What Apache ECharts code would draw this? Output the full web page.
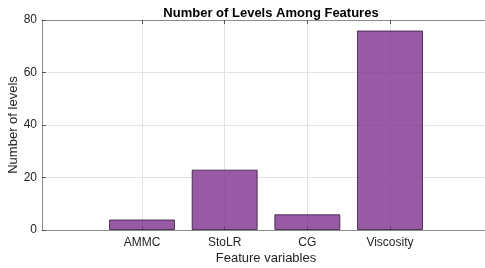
<!DOCTYPE html>
<html>
<head>
<meta charset="utf-8">
<script src="https://cdn.jsdelivr.net/npm/echarts@6/dist/echarts.min.js"></script>
<style>
  html, body { margin: 0; padding: 0; background: #fff; }
  #chart { width: 485px; height: 268px; }
</style>
</head>
<body>
<div id="chart"></div>
<script>
// feature names and how many levels each one has
const features = ['AMMC', 'StoLR', 'CG', 'Viscosity']
const positions = [1, 2, 3, 4]
const levels = [4, 23, 6, 76]
const yTicks = [0, 20, 40, 60, 80]

const font = 'Liberation Sans, Arial, sans-serif'
const axisGray = '#8c8c8c'
const gridGray = '#e3e3e3'

const chart = echarts.init(document.getElementById('chart'))

const xCommon = {
  type: 'value',
  min: -0.21,
  max: 5.21,
  axisLine: { show: true, onZero: false, lineStyle: { color: axisGray, width: 1 } },
  axisTick: { show: true, inside: true, length: 4, customValues: positions, lineStyle: { color: '#555' } },
  splitLine: { show: false }
}

chart.setOption({
  animation: false,
  textStyle: { fontFamily: font },
  title: {
    text: 'Number of Levels Among Features',
    left: 266,
    textAlign: 'center',
    top: 2,
    textStyle: { fontFamily: font, fontSize: 13, fontWeight: 'bold', color: '#000' }
  },
  grid: { left: 42, top: 20, right: -5, bottom: 38, outerBoundsMode: 'none' },
  xAxis: [
    Object.assign({}, xCommon, {
      position: 'bottom',
      name: 'Feature variables',
      nameLocation: 'middle',
      nameGap: 22,
      nameMoveOverlap: false,
      nameTextStyle: { fontFamily: font, fontSize: 13, color: '#262626' },
      axisLabel: {
        customValues: positions,
        formatter: v => features[positions.indexOf(v)] || '',
        fontFamily: font, fontSize: 12, color: '#262626', margin: 7
      },
      splitLine: { show: true, lineStyle: { color: gridGray, width: 1 } }
    }),
    Object.assign({}, xCommon, {
      position: 'top',
      axisLabel: { show: false }
    })
  ],
  yAxis: {
    type: 'value',
    min: 0,
    max: 80,
    interval: 20,
    name: 'Number of levels',
    nameLocation: 'middle',
    nameRotate: 90,
    nameGap: 22,
    nameMoveOverlap: false,
    nameTextStyle: { fontFamily: font, fontSize: 13, color: '#262626' },
    axisLine: { show: true, onZero: false, lineStyle: { color: axisGray, width: 1 } },
    axisTick: { show: true, inside: true, length: 4, lineStyle: { color: '#555' } },
    axisLabel: {
      fontFamily: font, fontSize: 12, color: '#262626', margin: 5,
      formatter: v => yTicks.includes(v) ? String(v) : ''
    },
    splitLine: { show: true, lineStyle: { color: gridGray, width: 1 } }
  },
  series: [{
    type: 'bar',
    xAxisIndex: 0,
    barWidth: 66,
    data: positions.map((p, i) => [p, levels[i]]),
    itemStyle: {
      color: 'rgba(126,47,142,0.8)',
      borderColor: 'rgba(40,20,45,0.75)',
      borderWidth: 1
    }
  }]
})
</script>
</body>
</html>
